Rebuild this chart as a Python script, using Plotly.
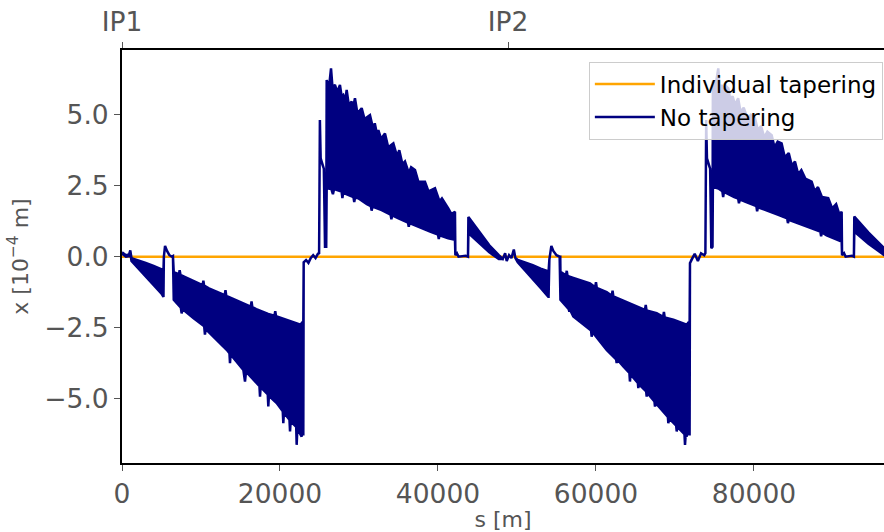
import plotly.graph_objects as go

# --- data (s in metres, x in units of 1e-4 m) ---
circumference = 97756
ip_positions = [0, 48878]
ip_labels = ["IP1", "IP2"]

s_individual = [0, 97756]
x_individual = [0.0, 0.0]

# upper envelope of the "No tapering" orbit
s_top = [0, 500, 900, 1050, 1200, 2000, 3000, 4000, 5000, 5250, 5300, 5450, 5700, 6000, 6300, 6450,
         6550, 7200, 7300, 7400, 8000, 9500, 10200, 10300, 10400, 11000, 12500, 13000, 13100, 13200,
         14000, 15500, 16300, 16400, 16500, 17000, 18500, 19300, 19400, 19500, 20000, 21500, 22600,
         22850, 22950,
         23000, 23300, 23600, 23900, 24200, 24500, 24800, 24950, 25050, 25150, 25300, 25550, 25700, 25850,
         25910, 26200, 26460, 26650, 26960, 27250, 27590, 27800, 28010, 28250, 28440, 28700, 29070, 29250,
         29490, 29800, 30340, 30700, 31390, 31800, 32000, 32250, 32450, 32800, 33290, 33700, 34350, 34800,
         35100, 35500, 35820, 36300, 36600, 37090, 37500, 38350, 38800, 39620, 40200, 40500, 41300, 41700,
         42150,
         42200, 42400, 42600, 43500, 43800,
         43850, 45300, 46500, 47700, 48200,
         48500, 48700, 49000, 49300, 49600, 49800,
         50100, 51000, 52000, 53000, 54000,
         54100, 54350, 54600, 55000, 55400, 55480,
         55500, 56200, 56300, 56400, 57130, 59240, 59900, 60000, 60100, 61350, 62000, 62100, 62200,
         63460, 65570, 66200, 66300, 66400, 67680, 68500, 68600, 68700, 69800, 71480, 71750, 71850,
         71900, 72100, 72500, 72900, 73300, 73700, 73850, 73950, 74050, 74200, 74450, 74600, 74750,
         74800, 75100, 75480, 75650, 75900, 76200, 76500, 76750, 77000, 77300, 77600, 78000, 78300,
         78700, 79200, 79600, 80130, 80500, 80900, 81300, 81700, 82240, 82600, 83000, 83500, 83900,
         84400, 84800, 85190, 85600, 86000, 86500, 87300, 87700, 88100, 88600, 89400, 89900, 90400,
         90800, 91100,
         91150, 91400, 91600, 92400, 92650,
         92700, 94500, 96460, 97756]
x_top = [0.15, 0.05, 0.08, 0.22, -0.05, -0.12, -0.22, -0.33, -0.45, -0.48, 0.0, 0.38, 0.20, 0.05, 0.0, 0.02,
         -0.55, -0.62, -0.48, -0.64, -0.72, -0.92, -1.00, -0.85, -1.02, -1.12, -1.30, -1.36, -1.18, -1.38,
         -1.48, -1.68, -1.76, -1.58, -1.78, -1.85, -2.02, -2.08, -1.92, -2.10, -2.15, -2.30, -2.40,
         -2.30, -2.46,
         -0.20, -0.12, -0.22, -0.05, 0.05, -0.05, 0.10, 0.12, 4.81, 3.46, 3.30, 3.10, 0.35, 0.35,
         6.22, 5.95, 6.63, 5.95, 6.05, 5.80, 6.05, 5.65, 5.70, 5.50, 5.87, 5.35, 5.46, 5.25,
         5.58, 5.05, 5.23, 4.85, 4.99, 4.50, 4.70, 4.35, 4.46, 4.15, 4.34, 3.85, 3.99, 3.55,
         3.75, 3.25, 3.35, 2.95, 3.15, 3.05, 2.65, 2.64, 2.30, 2.41, 1.95, 2.05, 1.70, 1.50,
         1.58,
         0.05, 0.12, 0.0, 0.03, 0.0,
         1.40, 0.85, 0.40, 0.05, -0.08,
         0.12, -0.15, 0.05, -0.05, 0.25, -0.05,
         -0.12, -0.20, -0.30, -0.42, -0.52,
         -0.10, 0.38, 0.20, 0.05, 0.0, 0.0,
         -0.53, -0.66, -0.50, -0.68, -0.75, -0.94, -1.08, -0.90, -1.10, -1.25, -1.38, -1.20, -1.40,
         -1.55, -1.80, -1.88, -1.70, -1.90, -1.99, -2.12, -1.95, -2.14, -2.22, -2.40, -2.30, -2.46,
         -0.23, -0.10, 0.10, -0.15, 0.12, 0.05, 0.12, 4.81, 3.46, 3.30, 3.10, 0.30, 0.35,
         6.20, 5.95, 6.63, 5.95, 6.05, 5.75, 6.00, 5.93, 5.55, 5.65, 5.35, 5.58, 5.10,
         5.25, 4.85, 5.00, 4.87, 4.45, 4.60, 4.20, 4.40, 4.28, 3.85, 4.05, 3.99, 3.50,
         3.65, 3.20, 3.35, 2.90, 3.05, 2.75, 2.64, 2.30, 2.45, 2.10, 2.06, 1.70, 1.85,
         1.50, 1.58,
         0.05, 0.12, 0.0, 0.03, 0.0,
         1.41, 0.85, 0.30, 0.10]

# lower envelope of the "No tapering" orbit
s_bot = [0, 500, 900, 1050, 1200, 2000, 3000, 4000, 5000, 5250, 5300, 5450, 5700, 6000, 6300, 6450,
         6550, 7450, 7550, 7650, 9030, 10400, 10500, 10600, 11140, 13250, 13600, 13670, 13750, 15360,
         15570, 15700, 17400, 17470, 17550, 18450, 18520, 18600, 19580, 20350, 20420, 20500, 21200,
         21270, 21350, 22050, 22110, 22200, 22740, 22850, 22950,
         23000, 23300, 23600, 23900, 24200, 24500, 24800, 24950, 25050, 25150, 25300, 25550, 25700, 25850,
         25910, 26500, 26700, 26850, 27800, 27900, 28000, 28650, 29300, 29400, 29500, 29900, 31000,
         31500, 31600, 31700, 32870, 34000, 34100, 34200, 35000, 36200, 36300, 36400, 37090, 39000,
         40000, 40100, 40200, 41300, 42150,
         42200, 42400, 42600, 43500, 43800,
         43850, 45300, 46500, 47700, 48200,
         48500, 48700, 49000, 49300, 49600, 49800,
         50100, 51000, 52000, 53000, 53960, 54000,
         54100, 54350, 54600, 55000, 55400, 55480,
         55500, 56550, 56630, 56700, 57130, 59380, 59450, 59550, 61350, 62550, 62620, 62700, 63460,
         64230, 64300, 64380, 65300, 65360, 65450, 66350, 66420, 66500, 67400, 67470, 67550, 69100,
         69160, 69250, 70150, 70220, 70300, 71200, 71270, 71350, 71480, 71750, 71850,
         71900, 72100, 72500, 72900, 73300, 73700, 73850, 73950, 74050, 74200, 74450, 74600, 74750,
         74800, 75500, 76000, 76100, 76200, 77500, 78000, 78100, 78200, 78860, 80300, 80400, 80500,
         81000, 83080, 84200, 84300, 84400, 85200, 87300, 88400, 88500, 88600, 89200, 91100,
         91150, 91400, 91600, 92400, 92650,
         92700, 94500, 96460, 97756]
x_bot = [0.10, 0.0, 0.02, 0.15, -0.15, -0.40, -0.70, -1.00, -1.30, -1.42, 0.0, 0.38, 0.20, 0.05, 0.0, 0.02,
         -1.52, -1.80, -2.00, -1.85, -2.16, -2.45, -2.75, -2.55, -2.69, -3.28, -3.40, -3.75, -3.45, -3.99,
         -4.40, -4.05, -4.56, -4.93, -4.60, -4.85, -5.28, -4.90, -5.16, -5.45, -5.87, -5.50, -5.75,
         -6.16, -5.80, -6.00, -6.63, -6.05, -6.34, -6.00, -6.30,
         -0.20, -0.12, -0.22, -0.05, 0.05, -0.05, 0.10, 0.12, 4.81, 3.46, 3.30, 3.10, 0.35, 0.35,
         2.41, 2.38, 2.20, 2.38, 2.29, 2.06, 2.25, 2.17, 2.10, 1.92, 2.08, 2.06, 1.85,
         1.78, 1.62, 1.76, 1.64, 1.48, 1.32, 1.45, 1.35, 1.20, 1.05, 1.18, 1.12, 0.88,
         0.78, 0.62, 0.75, 0.65, 0.59,
         0.05, 0.12, 0.0, 0.03, 0.0,
         0.83, 0.45, 0.15, -0.08, -0.08,
         0.12, -0.15, 0.05, -0.05, 0.25, -0.05,
         -0.20, -0.50, -0.80, -1.10, -1.41, -1.41,
         -0.10, 0.38, 0.20, 0.05, 0.0, 0.0,
         -1.52, -1.85, -1.94, -1.86, -2.11, -2.60, -2.82, -2.65, -3.29, -3.62, -3.75, -3.62, -3.87,
         -4.10, -4.40, -4.15, -4.45, -4.63, -4.50, -4.75, -4.93, -4.80, -5.10, -5.28, -5.15, -5.65,
         -5.87, -5.70, -5.95, -6.16, -6.00, -6.25, -6.63, -6.30, -6.34, -6.00, -6.30,
         -0.23, -0.10, 0.10, -0.15, 0.12, 0.05, 0.12, 4.81, 3.46, 3.30, 3.10, 0.30, 0.35,
         2.46, 2.40, 2.30, 2.10, 2.28, 2.10, 2.05, 1.88, 2.02, 1.94, 1.78, 1.60, 1.74,
         1.70, 1.47, 1.35, 1.18, 1.30, 1.23, 1.00, 0.88, 0.72, 0.85, 0.75, 0.53,
         0.05, 0.12, 0.0, 0.03, 0.0,
         0.88, 0.45, 0.06, 0.0]

# --- figure ---
FONT = "DejaVu Sans"
GREY = "#555555"
NAVY = "#000080"

fig = go.Figure()

fig.add_trace(go.Scatter(x=s_individual, y=x_individual, mode="lines",
                         line=dict(color="orange", width=2.5), name="Individual tapering"))

band_s = s_top + s_bot[::-1]
band_x = x_top + x_bot[::-1]
fig.add_trace(go.Scatter(x=band_s, y=band_x, mode="lines", fill="toself",
                         fillcolor=NAVY, line=dict(color=NAVY, width=2.5),
                         showlegend=False, hoverinfo="skip"))

fig.add_trace(go.Scatter(x=[None], y=[None], mode="lines",
                         line=dict(color=NAVY, width=2.5), name="No tapering"))

fig.add_trace(go.Scatter(x=ip_positions, y=[None, None], xaxis="x2", mode="markers",
                         showlegend=False, hoverinfo="skip"))

x_range = [0, 96460]

fig.update_layout(
    width=884, height=532,
    margin=dict(l=122, r=0, t=50, b=69, autoexpand=False),
    paper_bgcolor="white", plot_bgcolor="white",
    font=dict(family=FONT, color=GREY),
    xaxis=dict(range=x_range, tickvals=[0, 20000, 40000, 60000, 80000],
               ticktext=["0", "20000", "40000", "60000", "80000"],
               ticks="outside", ticklen=6, tickwidth=1.2, tickcolor=GREY,
               tickfont=dict(size=26.5, color=GREY, family=FONT),
               showline=True, linecolor="black", linewidth=2, mirror=False,
               showgrid=False, zeroline=False, automargin=False,
               title=dict(text="s [m]", font=dict(size=22, color=GREY, family=FONT), standoff=2)),
    xaxis2=dict(range=x_range, overlaying="x", side="top", anchor="y",
                tickvals=ip_positions, ticktext=ip_labels,
                ticks="outside", ticklen=6, tickwidth=1.2, tickcolor=GREY,
                tickfont=dict(size=26.5, color=GREY, family=FONT),
                showline=True, linecolor="black", linewidth=2, automargin=False,
                showgrid=False, zeroline=False),
    yaxis=dict(range=[-7.27, 7.28], tickvals=[-5, -2.5, 0, 2.5, 5],
               ticktext=["\u22125.0", "\u22122.5", "0.0", "2.5", "5.0"],
               ticks="outside", ticklen=6, tickwidth=1.2, tickcolor=GREY,
               tickfont=dict(size=26.5, color=GREY, family=FONT),
               showline=True, linecolor="black", linewidth=2, automargin=False,
               showgrid=False, zeroline=False,
               title=dict(text="x [10<sup>\u22124</sup> m]",
                          font=dict(size=22, color=GREY, family=FONT), standoff=10)),
    legend=dict(x=0.9985, y=0.972, xanchor="right", yanchor="top",
                bgcolor="rgba(255,255,255,0.8)", bordercolor="#cccccc", borderwidth=1,
                itemwidth=60,
                font=dict(size=23, color="black", family=FONT)),
    showlegend=True,
)

fig.write_html("out.html", config={"displayModeBar": False},
               post_script="document.body.style.margin='0';document.body.style.overflow='hidden';")
